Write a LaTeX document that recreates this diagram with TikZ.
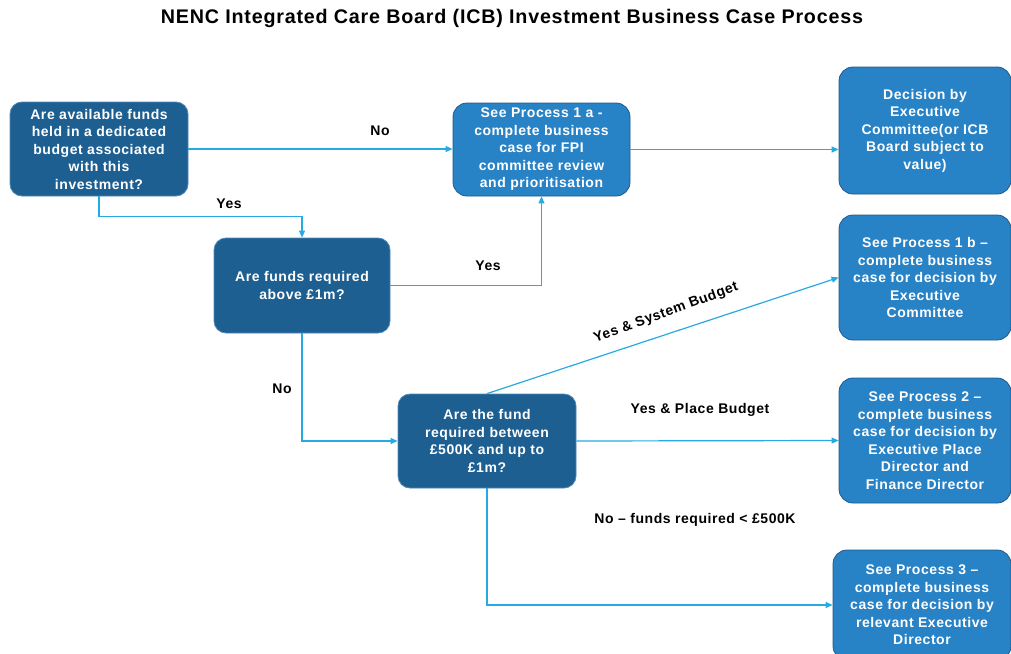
\documentclass[tikz,border=0pt]{standalone}
\usepackage{fontspec}
\setmainfont{Liberation Sans}
\newfontfamily\spfont[LetterSpace=4]{Liberation Sans}
\usetikzlibrary{arrows.meta}
\definecolor{darkbox}{RGB}{30,95,146}
\definecolor{darkedge}{RGB}{80,135,185}
\definecolor{midbox}{RGB}{40,130,198}
\definecolor{midedge}{RGB}{30,90,140}
\definecolor{conn}{RGB}{38,170,226}
\tikzset{
  qbox/.style={draw=darkedge, line width=0.8pt, fill=darkbox, rounded corners=12pt, text=white,
    font=\spfont\bfseries\fontsize{14}{17.5}\selectfont, align=center, inner sep=0pt},
  pbox/.style={draw=midedge, line width=0.8pt, fill=midbox, rounded corners=14pt, text=white,
    font=\spfont\bfseries\fontsize{14}{17.5}\selectfont, align=center, inner sep=0pt},
  link/.style={draw=conn, line width=1.2pt, -{Triangle[length=7pt,width=6pt]}},
  lab/.style={font=\spfont\bfseries\fontsize{14}{17}\selectfont, text=black, inner sep=0pt}
}
\begin{document}
\begin{tikzpicture}[x=1pt,y=-1pt]
\useasboundingbox (0,0) rectangle (1011,653);
\clip (0,0) rectangle (1011,653);
\node[font=\spfont\bfseries\fontsize{19.7}{22}\selectfont, inner sep=0pt] (title) at (512,18.5)
  {NENC Integrated Care Board (ICB) Investment Business Case Process};

\node[qbox, minimum width=178pt, minimum height=94pt] (q1) at (99,149)
  {Are available funds\\held in a dedicated\\budget associated\\with this\\investment?};
\node[pbox, minimum width=177pt, minimum height=93pt] (p1a) at (541.5,149.5)
  {See Process 1 a -\\complete business\\case for FPI\\committee review\\and prioritisation};
\node[pbox, minimum width=172pt, minimum height=127pt] (dec) at (925,130.5)
  {Decision by\\Executive\\Committee(or ICB\\Board subject to\\value)};
\node[qbox, minimum width=176pt, minimum height=95pt] (q2) at (302,285.5)
  {Are funds required\\above £1m?};
\node[pbox, minimum width=172pt, minimum height=125pt] (p1b) at (925,277.5)
  {See Process 1 b –\\complete business\\case for decision by\\Executive\\Committee};
\node[qbox, minimum width=178pt, minimum height=94pt] (q3) at (487,441)
  {Are the fund\\required between\\£500K and up to\\£1m?};
\node[pbox, minimum width=172pt, minimum height=125pt] (p2) at (925,440.5)
  {See Process 2 –\\complete business\\case for decision by\\Executive Place\\Director and\\Finance Director};
\node[pbox, minimum width=178pt, minimum height=110pt] (p3) at (922,605)
  {See Process 3 –\\complete business\\case for decision by\\relevant Executive\\Director};

\draw[link] (q1.east) -- (q1.east -| p1a.west);
\draw[link] (p1a.east) -- (p1a.east -| dec.west);
\draw[link] (q1.south) -- ++(0,20) -| (q2.north);
\draw[link] (q2.east) -| (p1a.south);
\draw[link] (q2.south) |- (q3.west);
\draw[link] (q3.north) -- (p1b.west);
\draw[link] (q3.east) -- (p2.west);
\draw[link] (q3.south) |- (p3.west);

\node[lab] (l1) at (380,131) {No};
\node[lab] (l2) at (229,204) {Yes};
\node[lab] (l3) at (488,266) {Yes};
\node[lab] (l4) at (282,389) {No};
\node[lab, rotate=20] (l5) at (666,313) {Yes \& System Budget};
\node[lab] (l6) at (700,410) {Yes \& Place Budget};
\node[lab] (l7) at (695,520) {No – funds required < £500K};
\end{tikzpicture}
\end{document}
